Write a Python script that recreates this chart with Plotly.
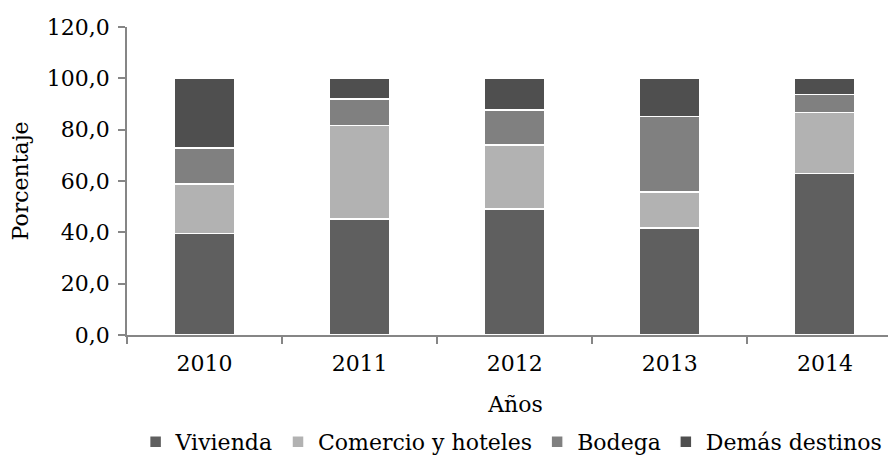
import plotly.graph_objects as go

years = ['2010', '2011', '2012', '2013', '2014']
vivienda = [39.6, 45.2, 49.1, 41.6, 63.0]
comercio = [19.3, 36.4, 24.9, 14.2, 23.7]
bodega = [13.9, 10.3, 13.7, 29.3, 7.0]
demas = [27.2, 8.1, 12.3, 14.9, 6.3]

series = [
    ('Vivienda', vivienda, '#5f5f5f'),
    ('Comercio y hoteles', comercio, '#b2b2b2'),
    ('Bodega', bodega, '#808080'),
    ('Demás destinos', demas, '#4f4f4f'),
]

axis_col = '#868686'
font_fam = 'DejaVu Serif'
fs = 22

fig = go.Figure()
for name, vals, col in series:
    fig.add_trace(go.Bar(
        x=years, y=vals, name=name, width=0.39,
        marker=dict(color=col, line=dict(color='white', width=1.5)),
    ))

# page body adds an 8px offset, margins compensate for it
fig.update_layout(
    barmode='stack',
    width=896, height=460,
    margin=dict(l=119, r=0, t=19, b=133, autoexpand=False),
    paper_bgcolor='white', plot_bgcolor='white',
    separators=',.',
    font=dict(family=font_fam, size=fs, color='#000000'),
    showlegend=True,
    legend=dict(orientation='h', x=0.495, xanchor='center', y=-0.347, yanchor='middle',
                traceorder='normal', font=dict(size=fs), itemwidth=30, tracegroupgap=0),
    xaxis=dict(
        title=dict(text='Años', standoff=21, font=dict(size=fs)),
        range=[-0.5, 4.51],
        showline=True, linecolor=axis_col, linewidth=1.5,
        ticks='outside', tickson='boundaries', ticklen=7, tickcolor=axis_col, tickwidth=1.5,
        ticklabelstandoff=8,
        showgrid=False, zeroline=False,
        tickfont=dict(size=fs),
    ),
    yaxis=dict(
        title=dict(text='Porcentaje', standoff=15, font=dict(size=fs)),
        range=[0, 120], dtick=20, tickformat='.1f',
        showline=True, linecolor=axis_col, linewidth=1.5,
        ticks='outside', ticklen=7, tickcolor=axis_col, tickwidth=1.5,
        ticklabelstandoff=4,
        showgrid=False, zeroline=False,
        tickfont=dict(size=fs),
    ),
)

fig.write_html('out.html')
